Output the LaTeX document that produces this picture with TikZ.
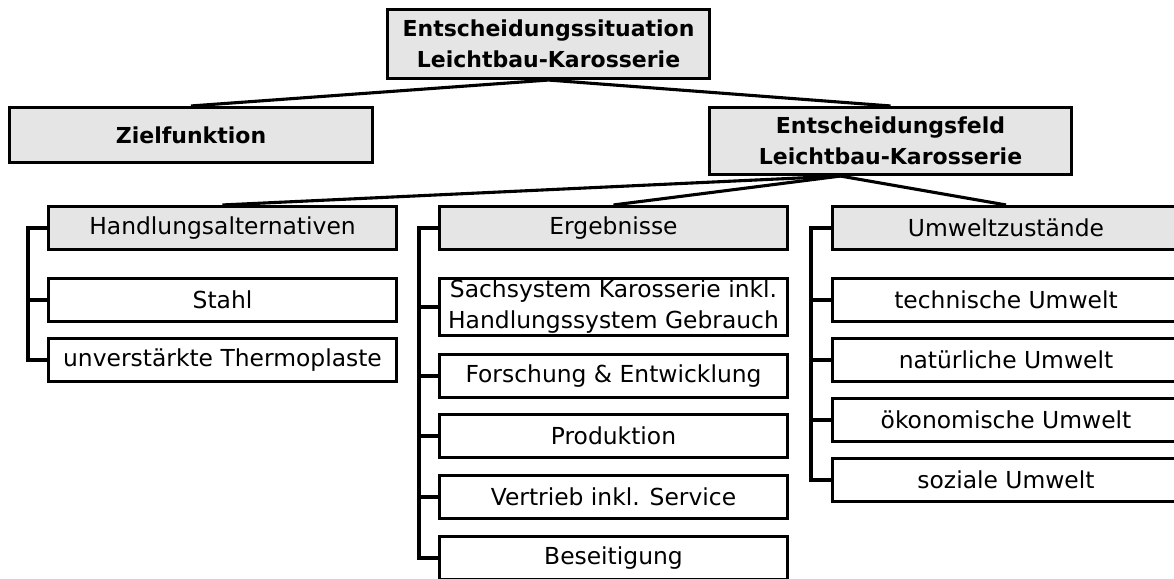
\documentclass[tikz,border=0pt]{standalone}
\usepackage{fontspec}
\setmainfont{DejaVu Sans}
\usepackage{tikz}
\usetikzlibrary{positioning,calc}

\tikzset{
  box/.style={draw, line width=3.1pt, minimum width=348pt, minimum height=43pt, inner sep=1pt, align=center, font=\fontsize{23.4}{31}\selectfont},
  headbox/.style={box, fill=gray!20},
  topbox/.style={headbox, font=\fontsize{22}{31}\selectfont\bfseries},
  link/.style={line width=3.1pt},
}

\begin{document}
\begin{tikzpicture}[x=1pt, y=-1pt]
    \useasboundingbox (0,0) rectangle (1174,578); % Frame

    \node[topbox, minimum width=322pt, minimum height=69pt] (situation) at (548.5,44) {Entscheidungssituation\\Leichtbau-Karosserie};
    \node[topbox, minimum width=363pt, minimum height=55pt] (ziel) at (191,135) {Zielfunktion};
    \node[topbox, minimum width=362pt, minimum height=67pt] (feld) at (890.5,141) {Entscheidungsfeld\\Leichtbau-Karosserie};

    \draw[link] (situation.south) -- (ziel.north);
    \draw[link] (situation.south) -- (feld.north);

    % Handlungsalternativen
    \node[headbox] (handl) at (222.5,228) {Handlungsalternativen};
    \node[box] (stahl) at (222.5,300) {Stahl};
    \node[box] (thermo) at (222.5,360) {unverstärkte Thermoplaste};

    % Ergebnisse
    \node[headbox] (ergeb) at (613.5,228) {Ergebnisse};
    \node[box, minimum height=57pt] (sach) at (613.5,307) {Sachsystem Karosserie inkl.\\Handlungssystem Gebrauch};
    \node[box] (forsch) at (613.5,376) {Forschung \& Entwicklung};
    \node[box] (prod) at (613.5,436) {Produktion};
    \node[box] (vertrieb) at (613.5,497) {Vertrieb inkl. Service};
    \node[box] (beseit) at (613.5,558) {Beseitigung};

    % Umweltzustaende
    \node[headbox, minimum width=347pt] (umwelt) at (1006,228) {Umweltzustände};
    \node[box, minimum width=347pt] (tech) at (1006,300) {technische Umwelt};
    \node[box, minimum width=347pt] (nat) at (1006,360) {natürliche Umwelt};
    \node[box, minimum width=347pt] (oeko) at (1006,420) {ökonomische Umwelt};
    \node[box, minimum width=347pt] (sozial) at (1006,480) {soziale Umwelt};

    \coordinate (fork) at ([xshift=-50pt]feld.south);
    \draw[link] (fork) -- (handl.north);
    \draw[link] (fork) -- (ergeb.north);
    \draw[link] (fork) -- (umwelt.north);

    \draw[link] (handl.west) -| ([xshift=-19pt]thermo.west) -- (thermo.west); % Bracket
    \draw[link] (stahl.west) -- ++(-19,0);

    \draw[link] (ergeb.west) -| ([xshift=-19pt]beseit.west) -- (beseit.west);
    \foreach \n in {sach,forsch,prod,vertrieb}
        \draw[link] (\n.west) -- ++(-19,0);

    \draw[link] (umwelt.west) -| ([xshift=-20pt]sozial.west) -- (sozial.west);
    \foreach \n in {tech,nat,oeko}
        \draw[link] (\n.west) -- ++(-20,0);
\end{tikzpicture}
\end{document}
